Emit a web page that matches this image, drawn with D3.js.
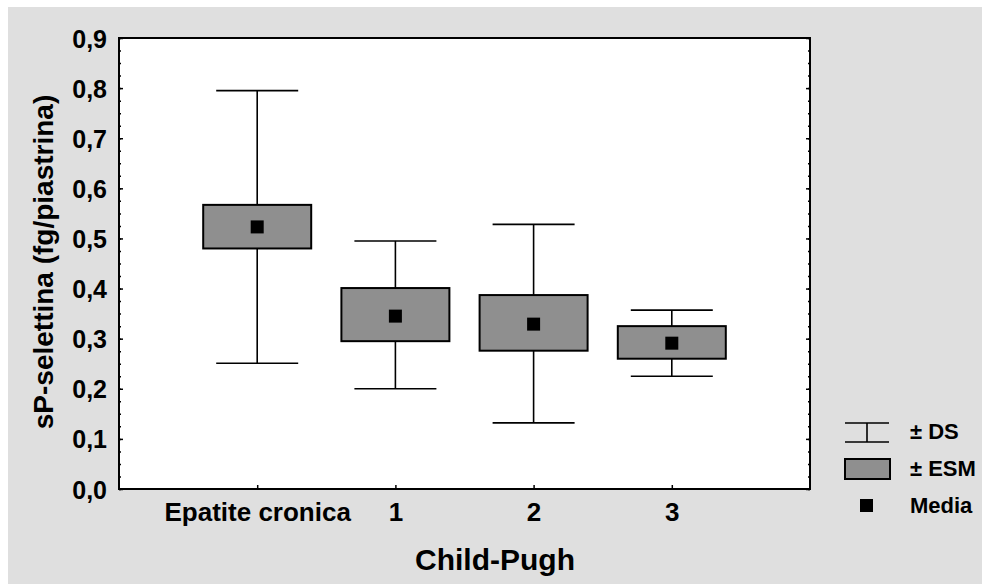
<!DOCTYPE html>
<html>
<head>
<meta charset="utf-8">
<script src="https://cdn.jsdelivr.net/npm/d3@7"></script>
<style>
  body { margin: 0; background: #fff; }
  text { font-family: "Liberation Sans", Arial, sans-serif; font-weight: bold; fill: #000; }
</style>
</head>
<body>
<svg id="chart"></svg>
<script>
// categories and values
var categories = ["Epatite cronica", "1", "2", "3"];
var media  = [0.523, 0.345, 0.329, 0.291];
var esmLow = [0.480, 0.295, 0.276, 0.260];
var esmHigh = [0.567, 0.401, 0.387, 0.325];
var dsLow  = [0.251, 0.200, 0.132, 0.225];
var dsHigh = [0.795, 0.495, 0.528, 0.357];
var yTicks = [0, 0.1, 0.2, 0.3, 0.4, 0.5, 0.6, 0.7, 0.8, 0.9];

var width = 982, height = 584;
var plotLeft = 119, plotRight = 810, plotTop = 38, plotBottom = 489;

var svg = d3.select("#chart")
    .attr("width", width)
    .attr("height", height);

// grey panel behind everything
svg.append("rect")
    .attr("x", 8).attr("y", 7)
    .attr("width", width - 8).attr("height", height - 7)
    .attr("fill", "#dfdfdf");

svg.append("rect")
    .attr("x", plotLeft).attr("y", plotTop)
    .attr("width", plotRight - plotLeft).attr("height", plotBottom - plotTop)
    .attr("fill", "#fff");

var x = d3.scalePoint()
    .domain(categories)
    .range([plotLeft, plotRight])
    .padding(1);

var y = d3.scaleLinear()
    .domain([0, 0.9])
    .range([plotBottom, plotTop]);

var fmt = function (d) { return d3.format(".1f")(d).replace(".", ","); };

// left axis, ticks pointing inside
var yAxis = svg.append("g")
    .attr("transform", "translate(" + plotLeft + ",0)")
    .call(d3.axisLeft(y).tickValues(yTicks).tickSizeInner(-4).tickSizeOuter(0)
        .tickPadding(12).tickFormat(fmt));
yAxis.selectAll("text").style("font-size", "25px").attr("dy", "0.36em");

var minor = d3.range(0, 0.9001, 0.025);
svg.append("g")
    .attr("transform", "translate(" + plotLeft + ",0)")
    .call(d3.axisLeft(y).tickValues(minor).tickSizeInner(-2).tickSizeOuter(0).tickFormat(""));

// right axis, ticks pointing inside too
svg.append("g")
    .attr("transform", "translate(" + plotRight + ",0)")
    .call(d3.axisRight(y).tickValues(yTicks).tickSizeInner(-4).tickSizeOuter(0).tickFormat(""));
svg.append("g")
    .attr("transform", "translate(" + plotRight + ",0)")
    .call(d3.axisRight(y).tickValues(minor).tickSizeInner(-2).tickSizeOuter(0).tickFormat(""));

// bottom axis
var xAxis = svg.append("g")
    .attr("transform", "translate(0," + plotBottom + ")")
    .call(d3.axisBottom(x).tickSizeInner(-4).tickSizeOuter(0).tickPadding(14));
xAxis.selectAll("text").style("font-size", "26px");

svg.selectAll(".domain").remove();
svg.selectAll(".tick line").attr("stroke", "#000").attr("stroke-width", 1.5);

// frame
svg.append("rect")
    .attr("x", plotLeft).attr("y", plotTop)
    .attr("width", plotRight - plotLeft).attr("height", plotBottom - plotTop)
    .attr("fill", "none")
    .attr("stroke", "#000")
    .attr("stroke-width", 2);

// box + whisker groups
var capW = 41, boxW = 54, mk = 13;
var groups = svg.selectAll(".grp")
    .data(categories)
    .enter().append("g")
    .attr("class", "grp");

groups.append("line")
    .attr("x1", function (d) { return x(d); })
    .attr("x2", function (d) { return x(d); })
    .attr("y1", function (d, i) { return y(dsLow[i]); })
    .attr("y2", function (d, i) { return y(dsHigh[i]); })
    .attr("stroke", "#000").attr("stroke-width", 1.6);

[dsLow, dsHigh].forEach(function (arr) {
    groups.append("line")
        .attr("x1", function (d) { return x(d) - capW; })
        .attr("x2", function (d) { return x(d) + capW; })
        .attr("y1", function (d, i) { return y(arr[i]); })
        .attr("y2", function (d, i) { return y(arr[i]); })
        .attr("stroke", "#000").attr("stroke-width", 1.6);
});

groups.append("rect")
    .attr("x", function (d) { return x(d) - boxW; })
    .attr("width", boxW * 2)
    .attr("y", function (d, i) { return y(esmHigh[i]); })
    .attr("height", function (d, i) { return y(esmLow[i]) - y(esmHigh[i]); })
    .attr("fill", "#8f8f8f")
    .attr("stroke", "#000").attr("stroke-width", 2);

groups.append("rect")
    .attr("x", function (d) { return x(d) - mk / 2; })
    .attr("y", function (d, i) { return y(media[i]) - mk / 2; })
    .attr("width", mk).attr("height", mk)
    .attr("fill", "#000");

// axis titles
svg.append("text")
    .attr("x", 495).attr("y", 570)
    .attr("text-anchor", "middle")
    .style("font-size", "30px")
    .text("Child-Pugh");

svg.append("text")
    .attr("transform", "translate(53,262) rotate(-90)")
    .attr("text-anchor", "middle")
    .style("font-size", "28px")
    .text("sP-selettina (fg/piastrina)");

// legend
var lg = svg.append("g");
lg.append("line").attr("x1", 845).attr("x2", 889).attr("y1", 423).attr("y2", 423)
    .attr("stroke", "#000").attr("stroke-width", 1.6);
lg.append("line").attr("x1", 845).attr("x2", 889).attr("y1", 442).attr("y2", 442)
    .attr("stroke", "#000").attr("stroke-width", 1.6);
lg.append("line").attr("x1", 867).attr("x2", 867).attr("y1", 423).attr("y2", 442)
    .attr("stroke", "#000").attr("stroke-width", 1.6);
lg.append("rect").attr("x", 845).attr("y", 459).attr("width", 45).attr("height", 20)
    .attr("fill", "#8f8f8f").attr("stroke", "#000").attr("stroke-width", 2);
lg.append("rect").attr("x", 860).attr("y", 499).attr("width", 13).attr("height", 13)
    .attr("fill", "#000");

var legendText = [["± DS", 439], ["± ESM", 476], ["Media", 513]];
lg.selectAll(".lt")
    .data(legendText)
    .enter().append("text")
    .attr("x", 910)
    .attr("y", function (d) { return d[1]; })
    .style("font-size", "22px")
    .text(function (d) { return d[0]; });
</script>
</body>
</html>
